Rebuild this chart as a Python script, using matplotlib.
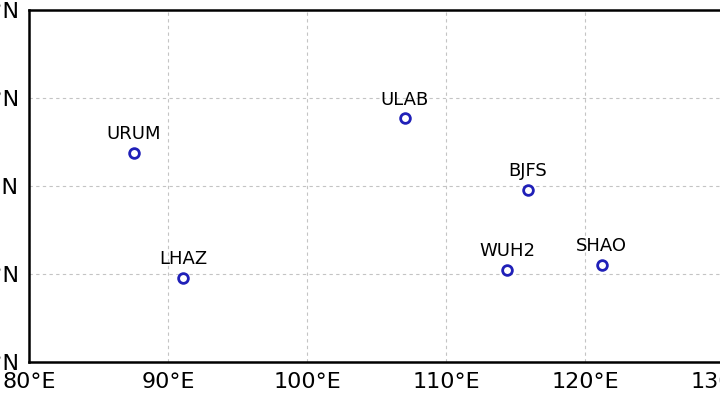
import matplotlib
matplotlib.use('Agg')
import matplotlib.pyplot as plt

# GNSS stations (lon, lat)
stations = ["URUM", "LHAZ", "ULAB", "BJFS", "WUH2", "SHAO"]
lons = [87.55, 91.08, 107.05, 115.9, 114.4, 121.2]
lats = [43.75, 29.55, 47.7, 39.6, 30.45, 31.0]

lon_ticks = [80, 90, 100, 110, 120, 130]
lat_ticks = [20, 30, 40, 50, 60]

fig = plt.figure(figsize=(7.2, 3.95), dpi=100)
# axes extend past the right edge (cropped map)
ax = fig.add_axes([29 / 720, 33 / 395, 764.5 / 720, 352 / 395])
ax.set_xlim(80, 135)
ax.set_ylim(20, 60)

ax.plot(lons, lats, 'o', markersize=7, markerfacecolor='none',
        markeredgecolor='#2020b8', markeredgewidth=2, zorder=3)
for name, x, y in zip(stations, lons, lats):
    ax.annotate(name, (x, y), xytext=(0, 7), textcoords='offset points',
                ha='center', va='bottom', fontsize=13)

ax.set_xticks(lon_ticks)
ax.set_xticklabels([f"{v}°E" for v in lon_ticks])
ax.set_yticks(lat_ticks)
ax.set_yticklabels([f"{v}°N" for v in lat_ticks])
ax.tick_params(length=0, labelsize=16, pad=7)
ax.tick_params(axis='x', pad=7)
ax.grid(True, color='#c4c4c4', linestyle='--', linewidth=0.8, dashes=(3, 3))
for s in ax.spines.values():
    s.set_linewidth(1.8)

fig.savefig('out.png', dpi=100)
